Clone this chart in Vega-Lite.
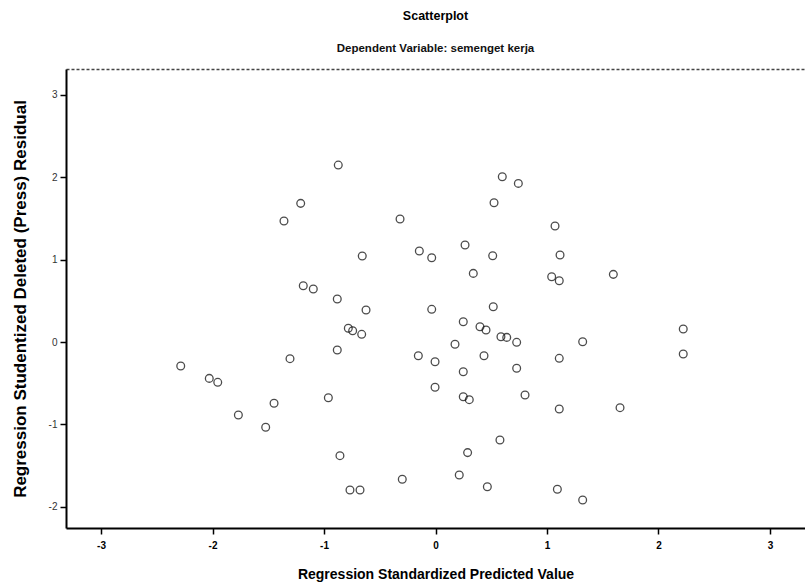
{
  "$schema": "https://vega.github.io/schema/vega-lite/v6.json",
  "autosize": {"type": "none"},
  "padding": {"left": 66, "top": 69, "right": 0, "bottom": 60},
  "width": 739,
  "height": 459,
  "background": "white",
  "title": {
    "text": "Scatterplot",
    "subtitle": "Dependent Variable: semenget kerja",
    "anchor": "middle",
    "frame": "group",
    "font": "Liberation Sans",
    "fontSize": 12.5,
    "fontWeight": "bold",
    "color": "black",
    "subtitleFont": "Liberation Sans",
    "subtitleFontSize": 11.5,
    "subtitleFontWeight": "bold",
    "subtitleColor": "#111111",
    "subtitlePadding": 20,
    "offset": 15
  },
  "config": {
    "view": {"stroke": null},
    "axis": {"grid": false, "labelFont": "Liberation Sans", "titleFont": "Liberation Sans", "labelColor": "black", "titleColor": "black", "domainColor": "black", "tickColor": "black"}
  },
  "data": {
    "values": [
      {"pred": -0.872, "resid": 2.145},
      {"pred": -1.209, "resid": 1.681},
      {"pred": -1.359, "resid": 1.467},
      {"pred": -0.318, "resid": 1.491},
      {"pred": -0.657, "resid": 1.042},
      {"pred": -0.145, "resid": 1.103},
      {"pred": -0.034, "resid": 1.022},
      {"pred": -1.186, "resid": 0.682},
      {"pred": -1.096, "resid": 0.642},
      {"pred": -0.881, "resid": 0.521},
      {"pred": -0.623, "resid": 0.388},
      {"pred": -0.034, "resid": 0.396},
      {"pred": -0.782, "resid": 0.166},
      {"pred": -0.743, "resid": 0.137},
      {"pred": -0.662, "resid": 0.093},
      {"pred": -0.881, "resid": -0.097},
      {"pred": -1.305, "resid": -0.202},
      {"pred": -2.285, "resid": -0.291},
      {"pred": -0.154, "resid": -0.166},
      {"pred": -0.004, "resid": -0.239},
      {"pred": 0.599, "resid": 2.004},
      {"pred": 0.743, "resid": 1.923},
      {"pred": 0.525, "resid": 1.689},
      {"pred": 1.072, "resid": 1.406},
      {"pred": 0.265, "resid": 1.176},
      {"pred": 0.513, "resid": 1.046},
      {"pred": 1.117, "resid": 1.055},
      {"pred": 0.339, "resid": 0.832},
      {"pred": 1.042, "resid": 0.792},
      {"pred": 1.110, "resid": 0.743},
      {"pred": 1.595, "resid": 0.820},
      {"pred": 0.518, "resid": 0.428},
      {"pred": 0.249, "resid": 0.246},
      {"pred": 0.399, "resid": 0.185},
      {"pred": 0.453, "resid": 0.145},
      {"pred": 0.587, "resid": 0.064},
      {"pred": 0.639, "resid": 0.056},
      {"pred": 0.728, "resid": -0.004},
      {"pred": 1.320, "resid": 0.004},
      {"pred": 2.222, "resid": 0.158},
      {"pred": 2.222, "resid": -0.145},
      {"pred": 0.175, "resid": -0.028},
      {"pred": 0.435, "resid": -0.166},
      {"pred": 1.110, "resid": -0.198},
      {"pred": 0.249, "resid": -0.360},
      {"pred": 0.728, "resid": -0.319},
      {"pred": -0.004, "resid": -0.549},
      {"pred": 0.249, "resid": -0.663},
      {"pred": 0.303, "resid": -0.699},
      {"pred": 0.803, "resid": -0.642},
      {"pred": 1.110, "resid": -0.812},
      {"pred": 1.655, "resid": -0.796},
      {"pred": 0.578, "resid": -1.188},
      {"pred": 0.288, "resid": -1.341},
      {"pred": -0.298, "resid": -1.664},
      {"pred": 0.213, "resid": -1.612},
      {"pred": 0.465, "resid": -1.754},
      {"pred": 1.093, "resid": -1.786},
      {"pred": 1.320, "resid": -1.915},
      {"pred": -2.029, "resid": -0.441},
      {"pred": -1.953, "resid": -0.489},
      {"pred": -0.961, "resid": -0.675},
      {"pred": -1.448, "resid": -0.743},
      {"pred": -1.768, "resid": -0.885},
      {"pred": -1.523, "resid": -1.034},
      {"pred": -0.857, "resid": -1.378},
      {"pred": -0.767, "resid": -1.794},
      {"pred": -0.677, "resid": -1.794}
    ]
  },
  "layer": [
    {
      "mark": {"type": "point", "shape": "circle", "filled": false, "stroke": "black", "strokeWidth": 1.3, "size": 60},
      "encoding": {
        "x": {
          "field": "pred", "type": "quantitative",
          "scale": {"domain": [-3.314, 3.314], "nice": false, "zero": false},
          "axis": {"orient": "bottom", "values": [-3, -2, -1, 0, 1, 2, 3], "labelExpr": "datum.value + ''", "title": "Regression Standardized Predicted Value",
            "titleFontSize": 14, "titleFontWeight": "bold", "titlePadding": 17, "labelFontSize": 10, "labelFontWeight": "bold",
            "tickSize": 6, "tickWidth": 1.5, "domainWidth": 2, "labelPadding": 6}
        },
        "y": {
          "field": "resid", "type": "quantitative",
          "scale": {"domain": [-2.255, 3.31], "nice": false, "zero": false},
          "axis": {"orient": "left", "values": [-2, -1, 0, 1, 2, 3], "labelExpr": "datum.value + ''", "title": "Regression Studentized Deleted (Press) Residual",
            "titleFontSize": 17, "titleFontWeight": "bold", "titlePadding": 19, "labelFontSize": 10, "labelFontWeight": "normal", "labelColor": "#333333",
            "tickSize": 6, "tickWidth": 1.5, "domainWidth": 2, "labelPadding": 3}
        }
      }
    },
    {
      "mark": {"type": "point", "opacity": 0},
      "encoding": {
        "x": {
          "field": "pred", "type": "quantitative",
          "axis": {"orient": "top", "title": null, "labels": false, "ticks": false, "domainDash": [3, 2], "domainWidth": 1.5, "domainColor": "#444444"}
        },
        "y": {"field": "resid", "type": "quantitative"}
      }
    }
  ],
  "resolve": {"axis": {"x": "independent"}}
}
